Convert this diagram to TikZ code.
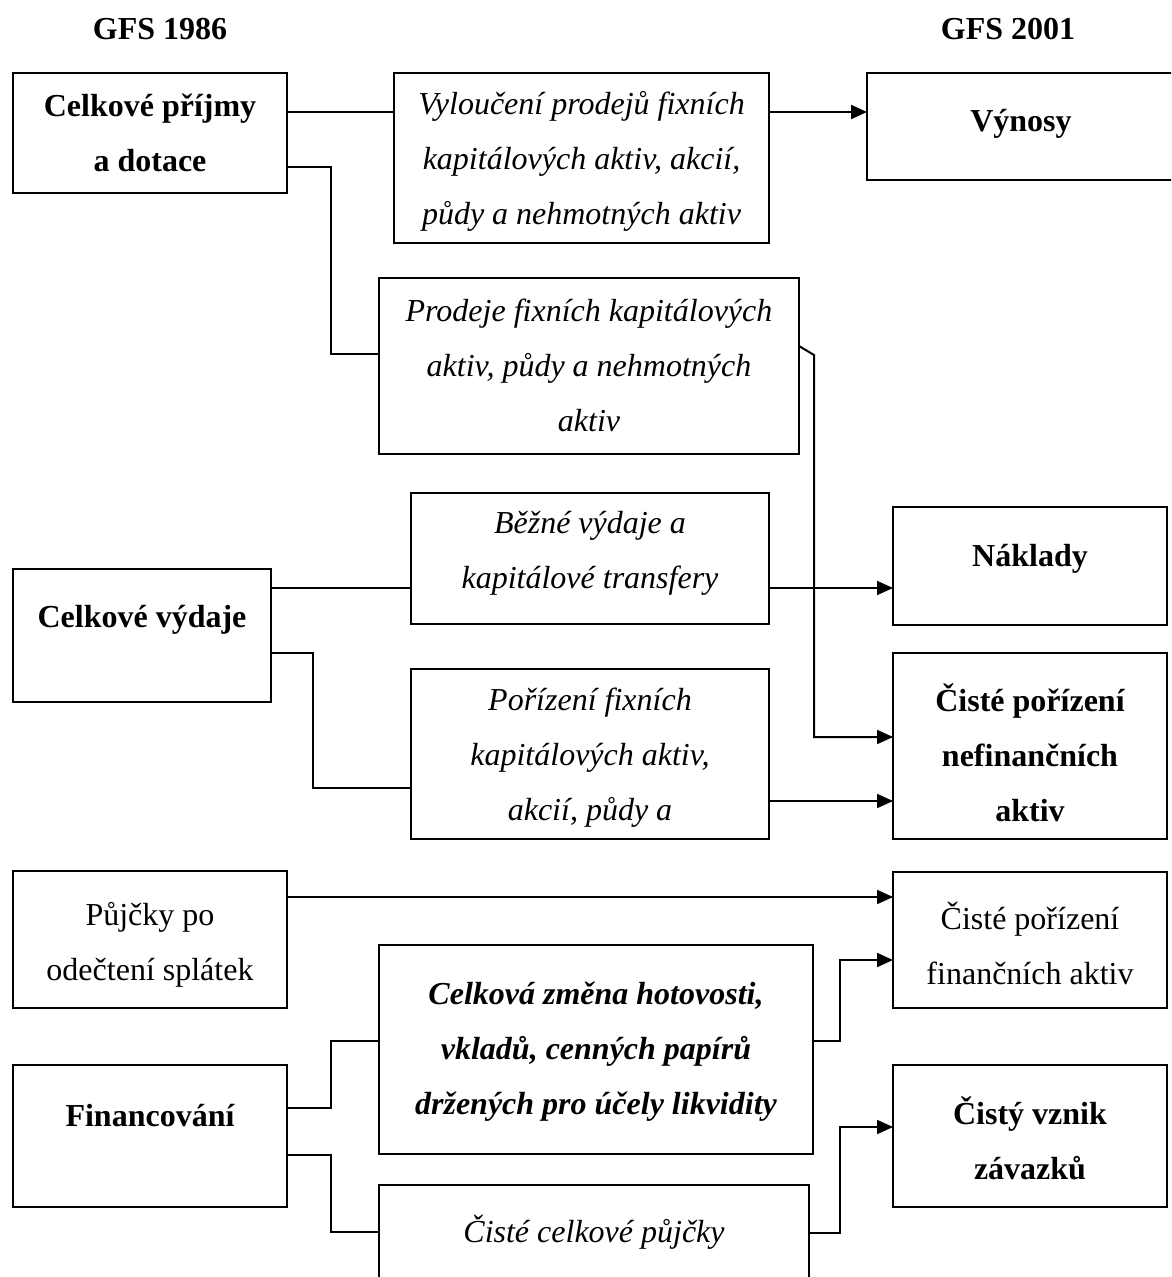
\documentclass[tikz,border=0pt]{standalone}
\usepackage{fontspec}
\setmainfont{Liberation Serif}
\usetikzlibrary{arrows.meta,fit}

\begin{document}
\begin{tikzpicture}[x=1pt,y=-1pt,
  box/.style={draw, line width=2pt, inner sep=0pt, outer sep=0pt},
  txt/.style={align=center, inner sep=0pt, font=\fontsize{32}{55}\selectfont},
  link/.style={line width=2pt},
  feed/.style={link, -{Triangle[length=16pt,width=14pt]}},
]
\clip (0,0) rectangle (1171,1277);

% column headings
\node[txt, font=\fontsize{32}{55}\selectfont\bfseries] (h86) at (160,29) {GFS 1986};
\node[txt, font=\fontsize{32}{55}\selectfont\bfseries] (h01) at (1008,29) {GFS 2001};

% boxes
\node[box, fit={(13,73) (287,193)}]    (A)   {};
\node[box, fit={(394,73) (769,243)}]   (Vyl) {};
\node[box, fit={(867,73) (1180,180)}]  (Vyn) {};
\node[box, fit={(379,278) (799,454)}]  (Prod) {};
\node[box, fit={(13,569) (271,702)}]   (CV)  {};
\node[box, fit={(411,493) (769,624)}]  (Bez) {};
\node[box, fit={(893,507) (1167,625)}] (Nak) {};
\node[box, fit={(411,669) (769,839)}]  (Por) {};
\node[box, fit={(893,653) (1167,839)}] (CPN) {};
\node[box, fit={(13,871) (287,1008)}]  (Puj) {};
\node[box, fit={(893,872) (1167,1008)}] (CPF) {};
\node[box, fit={(379,945) (813,1154)}] (Cel) {};
\node[box, fit={(13,1065) (287,1207)}] (Fin) {};
\node[box, fit={(893,1065) (1167,1207)}] (CVZ) {};
\node[box, fit={(379,1185) (809,1300)}] (CCP) {};

% box texts
\node[txt, font=\fontsize{32}{55}\selectfont\bfseries] (At) at (150,132.5) {Celkové příjmy\\a dotace};
\node[txt, font=\fontsize{32}{55}\selectfont\itshape] (Vylt) at (581.5,161) {Vyloučení prodejů fixních\\kapitálových aktiv, akcií,\\půdy a nehmotných aktiv};
\node[txt, font=\fontsize{32}{55}\selectfont\bfseries] (Vynt) at (1021,124) {Výnosy};
\node[txt, font=\fontsize{32}{55}\selectfont\itshape] (Prodt) at (589,365) {Prodeje fixních kapitálových\\aktiv, půdy a nehmotných\\aktiv};
\node[txt, font=\fontsize{32}{55}\selectfont\bfseries] (CVt) at (142,620) {Celkové výdaje};
\node[txt, font=\fontsize{32}{55}\selectfont\itshape] (Bezt) at (590,553.5) {Běžné výdaje a\\kapitálové transfery};
\node[txt, font=\fontsize{32}{55}\selectfont\bfseries] (Nakt) at (1030,559) {Náklady};
\node[txt, font=\fontsize{32}{55}\selectfont\itshape] (Port) at (590,758) {Pořízení fixních\\kapitálových aktiv,\\akcií, půdy a};
\node[txt, font=\fontsize{32}{55}\selectfont\bfseries] (CPNt) at (1030,753) {Čisté pořízení\\nefinančních\\aktiv};
\node[txt] (Pujt) at (150,945) {Půjčky po\\odečtení splátek};
\node[txt] (CPFt) at (1030,943.5) {Čisté pořízení\\finančních aktiv};
\node[txt, font=\fontsize{32}{55}\selectfont\bfseries\itshape] (Celt) at (596,1051.5) {Celková změna hotovosti,\\vkladů, cenných papírů\\držených pro účely likvidity};
\node[txt, font=\fontsize{32}{55}\selectfont\bfseries] (Fint) at (150,1116) {Financování};
\node[txt, font=\fontsize{32}{55}\selectfont\bfseries] (CVZt) at (1030,1138) {Čistý vznik\\závazků};
\node[txt, font=\fontsize{32}{55}\selectfont\itshape] (CCPt) at (594,1232) {Čisté celkové půjčky};

% connectors
\draw[link] (A.east |- 0,112) -- (Vyl.west |- 0,112);
\draw[feed] (Vyl.east |- 0,112) -- (Vyn.west |- 0,112);
\draw[link] (A.east |- 0,167) -- (331,167) |- (Prod.west |- 0,354);
\draw[feed] (Prod.east |- 0,346) -- (814,355) |- (CPN.west |- 0,737);
\draw[link] (CV.east |- 0,588) -- (Bez.west |- 0,588);
\draw[feed] (Bez.east |- 0,588) -- (Nak.west |- 0,588);
\draw[link] (CV.east |- 0,653) -- (313,653) |- (Por.west |- 0,788);
\draw[feed] (Por.east |- 0,801) -- (CPN.west |- 0,801);
\draw[feed] (Puj.east |- 0,897) -- (CPF.west |- 0,897);
\draw[feed] (Cel.east |- 0,1041) -- (840,1041) |- (CPF.west |- 0,960);
\draw[link] (Fin.east |- 0,1108) -- (331,1108) |- (Cel.west |- 0,1041);
\draw[link] (Fin.east |- 0,1155) -- (331,1155) |- (CCP.west |- 0,1232);
\draw[feed] (CCP.east |- 0,1233) -- (840,1233) |- (CVZ.west |- 0,1127);
\end{tikzpicture}
\end{document}
